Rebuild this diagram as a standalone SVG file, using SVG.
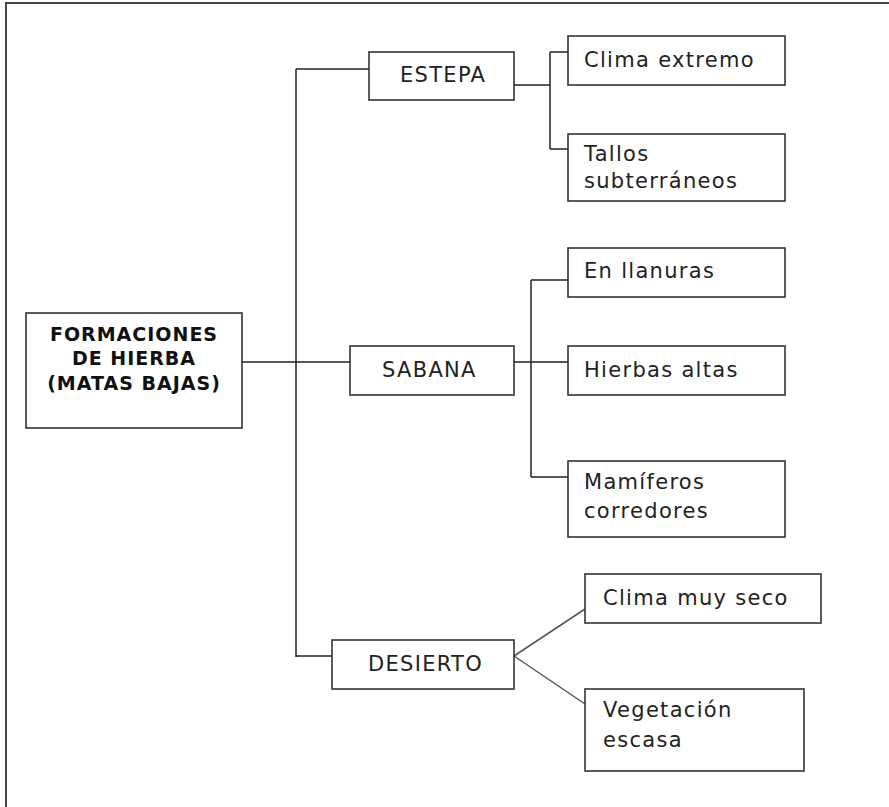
<svg xmlns="http://www.w3.org/2000/svg" width="889" height="807" viewBox="0 0 889 807">
<style>
rect{fill:#fff;stroke:#333;stroke-width:1.6}
.c{fill:none;stroke:#222;stroke-width:1.5}
.d{fill:none;stroke:#555;stroke-width:1.5}
text{font-family:"DejaVu Sans","Liberation Sans",sans-serif;font-size:21px;letter-spacing:1.3px;fill:#222}
.b{font-weight:bold;font-size:19px;letter-spacing:1px;fill:#111}
.m{text-anchor:middle}
</style>
<rect x="0" y="0" width="889" height="807" style="fill:#fff;stroke:none"/>
<path class="c" d="M6,807 V3 H889" style="stroke:#444;stroke-width:2"/>
<g id="connectors">
<path class="c" d="M296,69 V657"/>
<path class="c" d="M296,69 H369"/>
<path class="c" d="M242,362 H350"/>
<path class="c" d="M296,656 H332"/>
<path class="c" d="M514,85 H550 M550,52 V149 M550,52 H568 M550,149 H568"/>
<path class="c" d="M514,362 H568 M531,280 V477 M531,280 H568 M531,477 H568"/>
<path class="d" d="M514,656 L585,609 M514,656 L585,704"/>
</g>
<g id="root">
<rect x="26" y="313" width="216" height="115"/>
<text class="b m" x="134" y="341">FORMACIONES</text>
<text class="b m" x="134" y="365">DE HIERBA</text>
<text class="b m" x="134" y="390">(MATAS BAJAS)</text>
</g>
<g id="estepa">
<rect x="369" y="52" width="145" height="48"/>
<text x="400" y="82">ESTEPA</text>
</g>
<g id="sabana">
<rect x="350" y="346" width="164" height="49"/>
<text x="382" y="377">SABANA</text>
</g>
<g id="desierto">
<rect x="332" y="640" width="182" height="49"/>
<text x="368" y="671">DESIERTO</text>
</g>
<g id="clima-extremo">
<rect x="568" y="36" width="217" height="49"/>
<text x="584" y="67">Clima extremo</text>
</g>
<g id="tallos">
<rect x="568" y="134" width="217" height="67"/>
<text x="584" y="161">Tallos</text>
<text x="584" y="188">subterráneos</text>
</g>
<g id="llanuras">
<rect x="568" y="248" width="217" height="49"/>
<text x="584" y="278">En llanuras</text>
</g>
<g id="hierbas">
<rect x="568" y="346" width="217" height="49"/>
<text x="584" y="377">Hierbas altas</text>
</g>
<g id="mamiferos">
<rect x="568" y="461" width="217" height="76"/>
<text x="584" y="489">Mamíferos</text>
<text x="584" y="518">corredores</text>
</g>
<g id="clima-seco">
<rect x="585" y="574" width="236" height="49"/>
<text x="603" y="605">Clima muy seco</text>
</g>
<g id="vegetacion">
<rect x="585" y="689" width="219" height="82"/>
<text x="603" y="717">Vegetación</text>
<text x="603" y="747">escasa</text>
</g>
</svg>
